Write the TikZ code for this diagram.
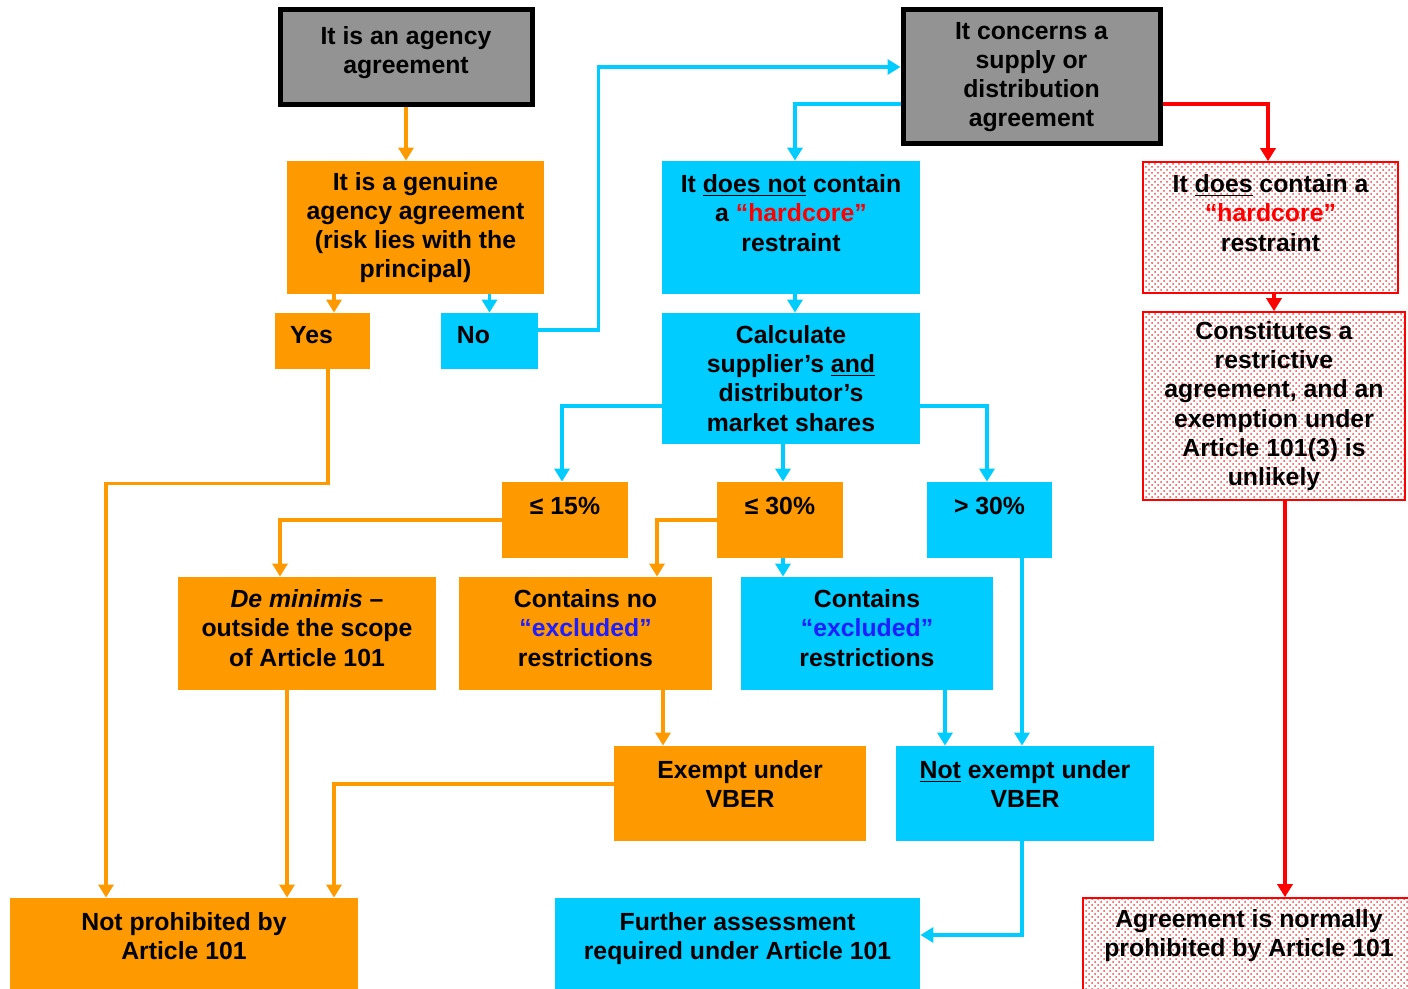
\documentclass[tikz,border=0pt]{standalone}
\usepackage{fontspec}
\setmainfont{Liberation Sans}
\usetikzlibrary{arrows.meta, patterns}
\definecolor{VbOrange}{HTML}{FF9900}
\definecolor{VbCyan}{HTML}{00CCFF}
\definecolor{VbGrey}{HTML}{939393}
\definecolor{HardRed}{HTML}{FF0000}
\definecolor{ExclBlue}{HTML}{1E1EFF}
\newcommand{\hardcore}{\textcolor{HardRed}{“hardcore”}}
\newcommand{\excluded}{\textcolor{ExclBlue}{“excluded”}}

\tikzset{
  box/.style={rectangle, align=center, inner sep=2pt, text=black,
    font=\bfseries\fontsize{12.4}{14.6}\selectfont},
  obox/.style={box, fill=VbOrange},
  cbox/.style={box, fill=VbCyan},
  gbox/.style={box, fill=VbGrey, draw=black, line width=2.5pt},
  rbox/.style={box, draw=HardRed, line width=0.8pt, pattern=crosshatch dots, pattern color=HardRed!75},
  sz/.style 2 args={minimum width=#1*0.5pt, minimum height=#2*0.5pt},
  oarr/.style={->, draw=VbOrange, line width=1.6pt},
  carr/.style={->, draw=VbCyan, line width=1.6pt},
  rarr/.style={->, draw=HardRed, line width=2.2pt},
}

\begin{document}
\begin{tikzpicture}[x=0.5pt, y=-0.5pt, >={Triangle[width=7.5pt,length=6.5pt]}]
    \useasboundingbox (0,0) rectangle (1408,989);
    \clip (0,0) rectangle (1408,989);

    % starting points
    \node[gbox, sz={252}{95}] (agency) at (406,57.5) {It is an agency\\agreement\\[-7pt]\mbox{}};
    \node[gbox, sz={257}{134}] (concerns) at (1031.5,77) {It concerns a\\supply or\\distribution\\agreement};

    % agency branch
    \node[obox, sz={257}{133}] (genuine) at (415.5,227.5) {It is a genuine\\agency agreement\\(risk lies with the\\principal)};
    \node[obox, sz={95}{56}] (yes) at (322.5,341) {Yes\hspace*{11pt}\\[-9pt]\mbox{}};
    \node[cbox, sz={97}{56}] (no) at (489.5,341) {No\hspace*{16pt}\\[-9pt]\mbox{}};

    % hardcore test
    \node[cbox, sz={258}{133}] (doesnot) at (791,227.5) {It \underline{does not} contain\\a \hardcore\\restraint\\\mbox{}};
    \node[rbox, sz={255}{131}] (does) at (1270.5,227.5) {It \underline{does} contain a\\\hardcore\\restraint\\\mbox{}};
    \node[cbox, sz={258}{131}] (calc) at (791,378.5) {Calculate\\supplier’s \underline{and}\\distributor’s\\market shares};
    \node[rbox, sz={262}{188}] (constit) at (1274,406) {Constitutes a\\restrictive\\agreement, and an\\exemption under\\Article 101(3) is\\unlikely};

    % market shares
    \node[obox, sz={126}{76}] (le15) at (565,520) {≤ 15\%\\\mbox{}};
    \node[obox, sz={126}{76}] (le30) at (780,520) {≤ 30\%\\\mbox{}};
    \node[cbox, sz={125}{76}] (gt30) at (989.5,520) {> 30\%\\\mbox{}};

    \node[obox, sz={258}{113}] (demin) at (307,633.5) {\textit{De minimis} –\\outside the scope\\of Article 101\\[-9pt]\mbox{}};
    \node[obox, sz={253}{113}] (noexcl) at (585.5,633.5) {Contains no\\\excluded\\restrictions\\[-9pt]\mbox{}};
    \node[cbox, sz={252}{113}] (excl) at (867,633.5) {Contains\\\excluded\\restrictions\\[-9pt]\mbox{}};

    \node[obox, sz={252}{95}] (exempt) at (740,793.5) {Exempt under\\VBER\\[-5pt]\mbox{}};
    \node[cbox, sz={258}{95}] (notex) at (1025,793.5) {\underline{Not} exempt under\\VBER\\[-5pt]\mbox{}};

    % outcomes
    \node[obox, sz={348}{110}] (notprohib) at (184,953) {Not prohibited by\\Article 101\\[2.4pt]\mbox{}};
    \node[cbox, sz={365}{110}] (further) at (737.5,953) {Further assessment\\required under Article 101\\[2.4pt]\mbox{}};
    \node[rbox, sz={332}{110}] (normally) at (1249,953) {Agreement is normally\\prohibited by Article 101\\[5pt]\mbox{}};

    % agency connectors
    \draw[oarr] (agency.south) -- (agency.south |- genuine.north);
    \draw[oarr] ([xshift=5.75pt]yes.north |- genuine.south) -- ([xshift=5.75pt]yes.north);
    \draw[carr] (no.north |- genuine.south) -- (no.north);
    \draw[carr] ([yshift=5.5pt]no.east) -- ++(60,0) |- ([yshift=5pt]concerns.west);
    \draw[oarr] ([xshift=2.75pt]yes.south) -- ++(0,114) -| ([xshift=-39pt]notprohib.north);

    % supply connectors
    \draw[carr] ([yshift=-13.5pt]concerns.west) -| ([xshift=2pt]doesnot.north);
    \draw[rarr] ([yshift=-13.5pt]concerns.east) -| ([xshift=-1.25pt]does.north);
    \draw[rarr] (constit.north |- does.south) -- (constit.north);
    \draw[rarr] ([xshift=5.5pt]constit.south) -- ([xshift=5.5pt]constit.south |- normally.north);
    \draw[carr] ([xshift=2pt]doesnot.south) -- ([xshift=2pt]calc.north);
    \draw[carr] ([yshift=-13.75pt]calc.west) -| ([xshift=-1.5pt]le15.north);
    \draw[carr] ([xshift=1.5pt]le30.north |- calc.south) -- ([xshift=1.5pt]le30.north);
    \draw[carr] ([yshift=-13.75pt]calc.east) -| ([xshift=-1.25pt]gt30.north);

    % share connectors
    \draw[oarr] (le15.west) -| ([xshift=-13.5pt]demin.north);
    \draw[oarr] (le30.west) -| ([xshift=35.75pt]noexcl.north);
    \draw[carr] ([xshift=1.5pt]le30.south) -- ([xshift=1.5pt]le30.south |- excl.north);
    \draw[carr] ([xshift=-1.5pt]notex.north |- gt30.south) -- ([xshift=-1.5pt]notex.north);
    \draw[carr] ([xshift=-40pt]notex.north |- excl.south) -- ([xshift=-40pt]notex.north);
    \draw[oarr] ([xshift=-38.5pt]exempt.north |- noexcl.south) -- ([xshift=-38.5pt]exempt.north);

    % outcome connectors
    \draw[oarr] ([xshift=-10pt]demin.south) -- ([xshift=-10pt]demin.south |- notprohib.north);
    \draw[oarr] ([yshift=4.75pt]exempt.west) -| ([xshift=75pt]notprohib.north);
    \draw[carr] ([xshift=-1.5pt]notex.south) |- ([yshift=9pt]further.east);
\end{tikzpicture}
\end{document}
